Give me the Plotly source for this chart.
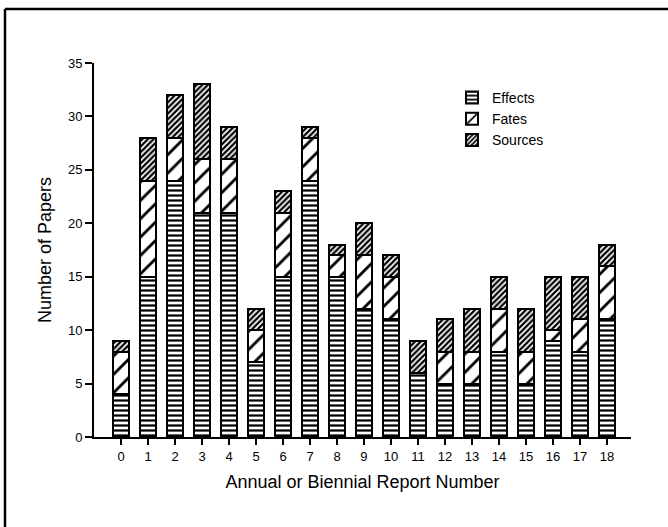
import plotly.graph_objects as go

# Report numbers and paper counts per category
reports = list(range(19))
effects = [4, 15, 24, 21, 21, 7, 15, 24, 15, 12, 11, 6, 5, 5, 8, 5, 9, 8, 11]
fates = [4, 9, 4, 5, 5, 3, 6, 4, 2, 5, 4, 0, 3, 3, 4, 3, 1, 3, 5]
sources = [1, 4, 4, 7, 3, 2, 2, 1, 1, 3, 2, 3, 3, 4, 3, 4, 5, 4, 2]
y_ticks = [0, 5, 10, 15, 20, 25, 30, 35]

FONT = "Arial, 'Liberation Sans', sans-serif"

W, H = 668, 527
ML, MR, MT, MB = 94, 37, 63, 90

series = [
    ("Effects", effects, dict(shape="-", size=5, solidity=0.45)),
    ("Fates", fates, dict(shape="/", size=13, solidity=0.22)),
    ("Sources", sources, dict(shape="/", size=4, solidity=0.55)),
]

fig = go.Figure()
for name, vals, pat in series:
    fig.add_trace(go.Bar(
        x=reports, y=vals, name=name, width=0.6,
        marker=dict(
            color="white",
            line=dict(color="black", width=2),
            pattern=dict(fgcolor="black", bgcolor="white", fillmode="overlay",
                         fgopacity=1, **pat),
        ),
    ))

pw = W - ML - MR
ph = H - MT - MB
# outer frame: left and top edges of the figure border, stopping at the page edge
fx = (5 - ML) / pw
fy = (H - MB - 9) / ph
fx_end = (W - ML) / pw
fy_end = -MB / ph
for x0, y0, x1, y1 in [(fx, fy_end, fx, fy), (fx, fy, fx_end, fy)]:
    fig.add_shape(type="line", xref="paper", yref="paper",
                  x0=x0, y0=y0, x1=x1, y1=y1,
                  line=dict(color="black", width=2.5), layer="above")

fig.update_layout(
    width=W, height=H,
    margin=dict(l=ML, r=MR, t=MT, b=MB),
    paper_bgcolor="white", plot_bgcolor="white",
    barmode="stack",
    font=dict(family=FONT, size=13, color="black"),
    legend=dict(
        x=(452 - ML) / pw, y=(H - MB - 82) / ph, xanchor="left", yanchor="top",
        bgcolor="rgba(0,0,0,0)", font=dict(size=14),
        itemwidth=30, tracegroupgap=0, traceorder="normal",
    ),
    showlegend=True,
    xaxis=dict(
        range=[-1.0, 18.89], tickmode="array", tickvals=reports,
        ticktext=[str(r) for r in reports],
        showgrid=False, zeroline=False, showline=True, linecolor="black", linewidth=2,
        ticks="outside", ticklen=6, tickwidth=2, tickcolor="black",
        title=dict(text="Annual or Biennial Report Number", font=dict(size=18), standoff=13),
    ),
    yaxis=dict(
        range=[0, 35], tickmode="array", tickvals=y_ticks,
        showgrid=False, zeroline=False, showline=True, linecolor="black", linewidth=2,
        ticks="outside", ticklen=7, tickwidth=2, tickcolor="black",
        title=dict(text="Number of Papers", font=dict(size=18), standoff=12),
    ),
)

fig.write_html("out.html")
